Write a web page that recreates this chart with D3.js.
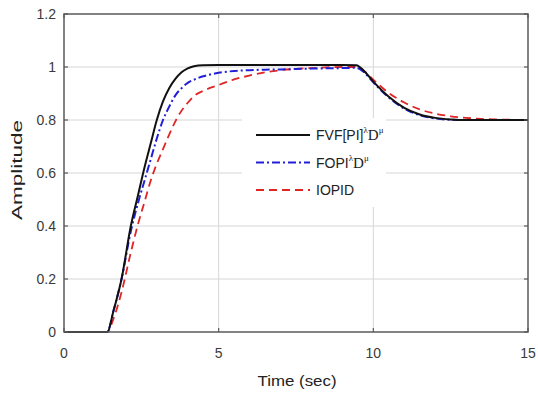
<!DOCTYPE html>
<html>
<head>
<meta charset="utf-8">
<script src="https://d3js.org/d3.v7.min.js"></script>
<style>
  body { margin: 0; background: #fff; }
  svg text { font-family: "Liberation Sans", Arial, sans-serif; }
</style>
</head>
<body>
<div id="chart"></div>
<script>
// step responses
const time   = [0, 1.4, 1.6, 1.86, 2.16, 2.4, 2.6, 2.8, 3.0, 3.2, 3.4, 3.6, 3.8, 4.0, 4.2, 4.5, 5, 5.5, 6, 6.5, 7, 8, 9, 9.45, 9.7, 10, 10.5, 11, 11.5, 12, 12.5, 13, 13.5, 14, 15];
const fvf    = [0, 0, 0.08, 0.2, 0.4, 0.52, 0.62, 0.71, 0.8, 0.87, 0.92, 0.955, 0.98, 0.995, 1.003, 1.007, 1.008, 1.008, 1.008, 1.008, 1.008, 1.008, 1.008, 1.007, 0.985, 0.945, 0.888, 0.846, 0.821, 0.808, 0.802, 0.8, 0.8, 0.8, 0.8];
const fopi   = [0, 0, 0.08, 0.2, 0.38, 0.49, 0.57, 0.65, 0.73, 0.8, 0.85, 0.893, 0.92, 0.94, 0.952, 0.965, 0.978, 0.985, 0.988, 0.99, 0.991, 0.994, 0.996, 0.997, 0.98, 0.942, 0.885, 0.843, 0.818, 0.806, 0.801, 0.8, 0.8, 0.8, 0.8];
const iopid  = [0, 0, 0.05, 0.15, 0.3, 0.41, 0.49, 0.57, 0.635, 0.69, 0.745, 0.795, 0.835, 0.865, 0.89, 0.91, 0.932, 0.953, 0.968, 0.98, 0.988, 0.996, 1.0, 1.0, 0.985, 0.952, 0.902, 0.866, 0.84, 0.824, 0.814, 0.808, 0.804, 0.802, 0.8];
const xTicks = [0, 5, 10, 15];
const yTicks = [0, 0.2, 0.4, 0.6, 0.8, 1, 1.2];
const seriesNames = ["FVF[PI]", "FOPI", "IOPID"];

const W = 538, H = 397;
const pLeft = 64, pRight = 528, pTop = 14, pBottom = 332;

const svg = d3.select("#chart").append("svg")
  .attr("width", W).attr("height", H);

const x = d3.scaleLinear().domain([0, 15]).range([pLeft, pRight]);
const y = d3.scaleLinear().domain([0, 1.2]).range([pBottom, pTop]);

// grid
svg.append("g").selectAll("line").data(xTicks.slice(1, -1)).enter().append("line")
  .attr("x1", d => x(d)).attr("x2", d => x(d))
  .attr("y1", pTop).attr("y2", pBottom)
  .attr("stroke", "#d6d6d6").attr("stroke-width", 1);
svg.append("g").selectAll("line").data(yTicks.slice(1, -1)).enter().append("line")
  .attr("x1", pLeft).attr("x2", pRight)
  .attr("y1", d => y(d)).attr("y2", d => y(d))
  .attr("stroke", "#d6d6d6").attr("stroke-width", 1);

// curves
const series = [
  {vals: fvf, color: "#111111", dash: null, w: 2},
  {vals: fopi, color: "#2020d8", dash: "8,3,2,3", w: 2},
  {vals: iopid, color: "#e02525", dash: "8,5", w: 1.8}
];
const line = d3.line()
  .x((d, i) => x(time[i]))
  .y(d => y(d))
  .curve(d3.curveMonotoneX);

// draw red first so black sits on top
[2, 1, 0].forEach(k => {
  const s = series[k];
  svg.append("path")
    .datum(s.vals)
    .attr("d", line)
    .attr("fill", "none")
    .attr("stroke", s.color)
    .attr("stroke-width", s.w)
    .attr("stroke-dasharray", s.dash);
});

// legend (white box, no border)
const lg = svg.append("g");
lg.append("rect").attr("x", 242).attr("y", 118).attr("width", 144).attr("height", 89).attr("fill", "#fff");
series.forEach((s, i) => {
  const ly = 135 + i * 27.5;
  lg.append("line")
    .attr("x1", 256).attr("x2", 310).attr("y1", ly).attr("y2", ly)
    .attr("stroke", s.color).attr("stroke-width", s.w)
    .attr("stroke-dasharray", s.dash);
  const t = lg.append("text").attr("x", 316).attr("y", ly + 5)
    .attr("font-size", 14).attr("fill", "#222");
  t.append("tspan").text(seriesNames[i]);
  if (i < 2) {
    t.append("tspan").attr("font-size", 9).attr("dy", -7).attr("font-family", "Liberation Serif, serif").text("λ");
    t.append("tspan").attr("dy", 7).attr("font-family", "Liberation Serif, serif").attr("font-size", 15).text("D");
    t.append("tspan").attr("font-size", 9).attr("dy", -7).attr("font-family", "Liberation Serif, serif").text("μ");
  }
});

// axes box
svg.append("rect").attr("x", pLeft).attr("y", pTop)
  .attr("width", pRight - pLeft).attr("height", pBottom - pTop)
  .attr("fill", "none").attr("stroke", "#5a5a5a").attr("stroke-width", 1.5);

// ticks inside, on all four sides
const tk = svg.append("g").attr("stroke", "#5a5a5a").attr("stroke-width", 1.2);
xTicks.forEach(d => {
  tk.append("line").attr("x1", x(d)).attr("x2", x(d)).attr("y1", pBottom).attr("y2", pBottom - 4);
  tk.append("line").attr("x1", x(d)).attr("x2", x(d)).attr("y1", pTop).attr("y2", pTop + 4);
});
yTicks.forEach(d => {
  tk.append("line").attr("x1", pLeft).attr("x2", pLeft + 4).attr("y1", y(d)).attr("y2", y(d));
  tk.append("line").attr("x1", pRight).attr("x2", pRight - 4).attr("y1", y(d)).attr("y2", y(d));
});

// tick labels
svg.append("g").selectAll("text").data(xTicks).enter().append("text")
  .attr("x", d => x(d)).attr("y", 358)
  .attr("text-anchor", "middle").attr("font-size", 14).attr("fill", "#3a3a3a")
  .text(d => d);
svg.append("g").selectAll("text").data(yTicks).enter().append("text")
  .attr("x", 56).attr("y", d => y(d) + 5)
  .attr("text-anchor", "end").attr("font-size", 14).attr("fill", "#3a3a3a")
  .text(d => d);

// axis titles
svg.append("text").attr("x", 297).attr("y", 386)
  .attr("text-anchor", "middle").attr("font-size", 15).attr("fill", "#222")
  .attr("textLength", 79).attr("lengthAdjust", "spacingAndGlyphs")
  .text("Time (sec)");
svg.append("text")
  .attr("transform", "translate(22,170) rotate(-90)")
  .attr("text-anchor", "middle").attr("font-size", 15).attr("fill", "#222")
  .attr("textLength", 100).attr("lengthAdjust", "spacingAndGlyphs")
  .text("Amplitude");
</script>
</body>
</html>
